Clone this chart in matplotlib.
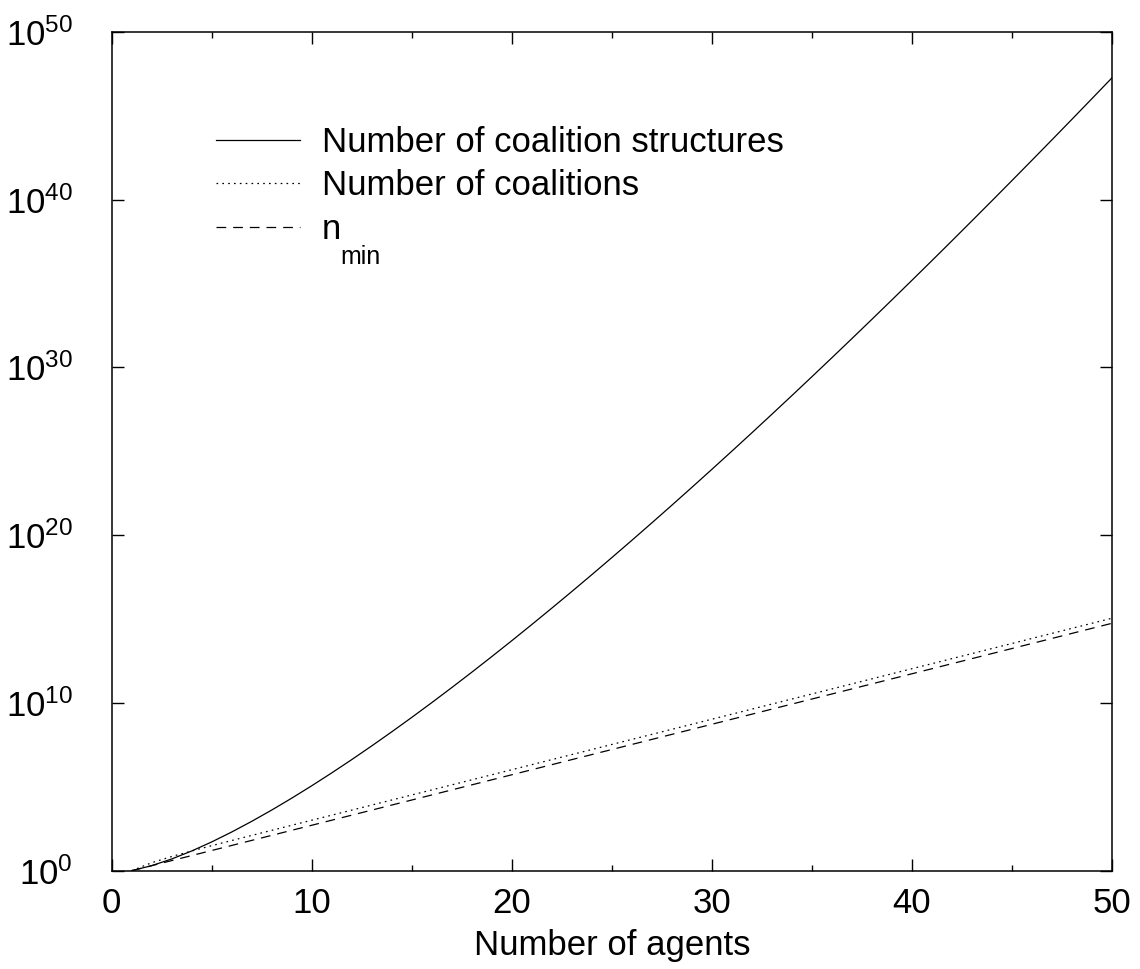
import numpy as np
import matplotlib
matplotlib.use("Agg")
import matplotlib.pyplot as plt
from matplotlib.ticker import FixedLocator, MultipleLocator, NullLocator

plt.rcParams['font.family'] = ['Liberation Sans', 'DejaVu Sans']
plt.rcParams['mathtext.fontset'] = 'custom'
plt.rcParams['mathtext.rm'] = 'Liberation Sans'
plt.rcParams['lines.scale_dashes'] = False

# number of agents
agents = np.arange(1, 51)

# number of coalition structures (Bell numbers)
coalition_structures = [
    1, 2, 5, 15, 52, 203, 877, 4140, 21147, 115975,
    678570, 4213597, 27644437, 190899322, 1382958545,
    1.0480e10, 8.2865e10, 6.8208e11, 5.8327e12, 5.1724e13,
    4.7487e14, 4.5067e15, 4.4152e16, 4.4596e17, 4.6386e18,
    4.9631e19, 5.4572e20, 6.1605e21, 7.1340e22, 8.4675e23,
    1.0293e25, 1.2806e26, 1.6296e27, 2.1195e28, 2.8160e29,
    3.8197e30, 5.2868e31, 7.4629e32, 1.0739e34, 1.5745e35,
    2.3510e36, 3.5740e37, 5.5290e38, 8.7010e39, 1.3920e41,
    2.2650e42, 3.7440e43, 6.2900e44, 1.0730e46, 1.8572e47,
]

# number of coalitions
coalitions = [
    1, 3, 7, 15, 31, 63, 127, 255, 511, 1023,
    2047, 4095, 8191, 16383, 32767, 65535, 131071, 262143, 524287, 1048575,
    2.097e6, 4.194e6, 8.389e6, 1.678e7, 3.355e7, 6.711e7, 1.342e8, 2.684e8, 5.369e8, 1.074e9,
    2.147e9, 4.295e9, 8.590e9, 1.718e10, 3.436e10, 6.872e10, 1.374e11, 2.749e11, 5.498e11, 1.100e12,
    2.199e12, 4.398e12, 8.796e12, 1.759e13, 3.518e13, 7.037e13, 1.407e14, 2.815e14, 5.629e14, 1.126e15,
]

# n_min
n_min = [
    1, 2, 4, 8, 16, 32, 64, 128, 256, 512,
    1024, 2048, 4096, 8192, 16384, 32768, 65536, 131072, 262144, 524288,
    1.049e6, 2.097e6, 4.194e6, 8.389e6, 1.678e7, 3.355e7, 6.711e7, 1.342e8, 2.684e8, 5.369e8,
    1.074e9, 2.147e9, 4.295e9, 8.590e9, 1.718e10, 3.436e10, 6.872e10, 1.374e11, 2.749e11, 5.498e11,
    1.100e12, 2.199e12, 4.398e12, 8.796e12, 1.759e13, 3.518e13, 7.037e13, 1.407e14, 2.815e14, 5.629e14,
]

decades = [0, 10, 20, 30, 40, 50]

fig = plt.figure(figsize=(11.4, 9.69), dpi=100)
ax = fig.add_axes([111.7 / 1140, 1 - 870.7 / 969, (1112 - 111.7) / 1140, (870.7 - 32) / 969])

lw = 0.9
ax.plot(agents, coalition_structures, color='black', lw=lw, label='Number of coalition structures')
ax.plot(agents, coalitions, color='black', lw=lw, dashes=(1.2, 3.0), label='Number of coalitions')
ax.plot(agents, n_min, color='black', lw=lw, dashes=(7, 5), label='n')

ax.set_yscale('log')
ax.set_xlim(0, 50)
ax.set_ylim(1, 1e50)

ax.xaxis.set_major_locator(MultipleLocator(10))
ax.xaxis.set_minor_locator(MultipleLocator(5))
ax.yaxis.set_major_locator(FixedLocator([10.0 ** d for d in decades]))
ax.yaxis.set_minor_locator(NullLocator())
ax.set_yticklabels([r'$\mathregular{10^{%d}}$' % d for d in decades])

ax.tick_params(which='both', direction='in', top=True, right=True, width=1, labelsize=25)
ax.tick_params(which='major', length=8.7)
ax.tick_params(which='minor', length=4.3)
ax.tick_params(axis='x', pad=12)
ax.tick_params(axis='y', pad=28)
for s in ax.spines.values():
    s.set_linewidth(1.1)

ax.set_xlabel('Number of agents', fontsize=25, labelpad=6)

ax.legend(loc='upper left', bbox_to_anchor=(216 / 1140, 1 - 126 / 969),
          bbox_transform=fig.transFigure, frameon=False, fontsize=25,
          borderpad=0, borderaxespad=0, handlelength=2.42, handletextpad=0.63,
          labelspacing=0.3)
# low subscript of n_min, as in the original
fig.text(340 / 1140, 1 - 264 / 969, 'min', fontsize=18, va='baseline', ha='left')

fig.savefig('out.png', dpi=100)
